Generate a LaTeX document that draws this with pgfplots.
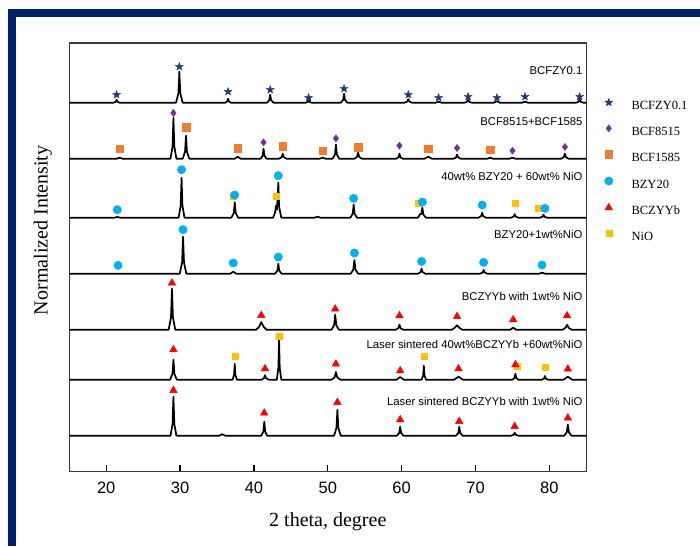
\documentclass[border=0pt]{standalone}
\usepackage{fontspec}
\setmainfont{Liberation Serif}
\setsansfont{Liberation Sans}
\usepackage{pgfplots}
\pgfplotsset{compat=1.18}

\definecolor{frameblue}{RGB}{0,33,105}
\definecolor{starblue}{RGB}{31,56,120}
\definecolor{bcfpurple}{RGB}{112,48,160}
\definecolor{bcforange}{RGB}{237,125,49}
\definecolor{bzycyan}{RGB}{0,176,240}
\definecolor{niogold}{RGB}{255,192,0}
\definecolor{axgray}{RGB}{60,60,60}

% filled five-pointed star
\pgfdeclareplotmark{fstar}{%
  \pgfpathmoveto{\pgfpointpolar{90}{\pgfplotmarksize}}%
  \pgfpathlineto{\pgfpointpolar{126}{0.42\pgfplotmarksize}}%
  \pgfpathlineto{\pgfpointpolar{162}{\pgfplotmarksize}}%
  \pgfpathlineto{\pgfpointpolar{198}{0.42\pgfplotmarksize}}%
  \pgfpathlineto{\pgfpointpolar{234}{\pgfplotmarksize}}%
  \pgfpathlineto{\pgfpointpolar{270}{0.42\pgfplotmarksize}}%
  \pgfpathlineto{\pgfpointpolar{306}{\pgfplotmarksize}}%
  \pgfpathlineto{\pgfpointpolar{342}{0.42\pgfplotmarksize}}%
  \pgfpathlineto{\pgfpointpolar{18}{\pgfplotmarksize}}%
  \pgfpathlineto{\pgfpointpolar{54}{0.42\pgfplotmarksize}}%
  \pgfpathclose
  \pgfusepathqfillstroke}

\begin{document}
\begin{tikzpicture}
\path (0,0) rectangle (700pt,546pt);
\fill[frameblue] (8.3pt,0pt) rectangle (15.7pt,537pt);
\fill[frameblue] (8.3pt,529.3pt) rectangle (700pt,537pt);
\begin{axis}[
    at={(69.3pt,74.3pt)}, anchor=south west,
    scale only axis,
    width=517pt, height=428.7pt,
    xmin=15, xmax=85,
    ymin=0, ymax=428.7,
    xtick={20,30,...,80},
    ytick=\empty,
    xtick pos=lower,
    tick align=inside,
    major tick length=7pt,
    tick style={line width=1.2pt, black},
    axis line style={line width=1.3pt, axgray},
    /pgf/number format/assume math mode=true,
    xticklabel style={font=\sffamily\fontsize{16.5}{18}\selectfont, anchor=center, yshift=-16.5pt},
    xlabel={2 theta, degree},
    ylabel={Normalized Intensity},
    xlabel style={font=\rmfamily\fontsize{20}{24}\selectfont, at={(axis description cs:0.5,-0.116)}, anchor=center},
    ylabel style={font=\rmfamily\fontsize{20}{24}\selectfont, at={(axis description cs:-0.051,0.563)}, anchor=center},
    legend style={draw=none, fill=none,
        at={(axis description cs:1.035,0.8715)}, anchor=north west,
        inner sep=0pt, row sep=12pt, column sep=18.5pt,
        font=\rmfamily\fontsize{12.5}{14}\selectfont,
        nodes={inner sep=0pt, text height=9pt, text depth=3pt}},
    legend cell align=left,
    legend image code/.code={\draw[#1] plot coordinates {(0pt,4.3pt)};},
    trace/.style={black, line width=1.7pt, line join=round, forget plot},
]

% ---- traces (offset stacked) ----
% BCFZY0.1
\addplot[trace] coordinates {
 (15,369) (21.0,369) (21.28,369.9) (21.4,372) (21.52,369.9) (21.8,369)
 (29.45,369) (29.77,378.3) (29.9,400) (30.03,378.3) (30.35,369)
 (36.1,369) (36.38,370.2) (36.5,373) (36.62,370.2) (36.9,369)
 (41.75,369) (42.07,371.4) (42.2,377) (42.33,371.4) (42.65,369)
 (47.0,369) (47.28,369.8) (47.4,371.5) (47.52,369.8) (47.8,369)
 (51.75,369) (52.07,371.7) (52.2,378) (52.33,371.7) (52.65,369)
 (60.4,369) (60.75,370.1) (60.9,372.5) (61.05,370.1) (61.4,369)
 (64.6,369) (65.0,370) (65.4,369)
 (68.5,369) (68.85,369.9) (69.0,372) (69.15,369.9) (69.5,369)
 (72.5,369) (72.9,370.5) (73.3,369)
 (76.3,369) (76.7,370) (77.1,369)
 (83.6,369) (83.95,369.9) (84.1,372) (84.25,369.9) (84.6,369) (85,369)
};
% BCF8515+BCF1585
\addplot[trace] coordinates {
 (15,313) (21.4,313) (21.8,314) (22.2,313)
 (28.7,313) (28.98,325.3) (29.1,354) (29.22,325.3) (29.5,313)
 (30.35,313) (30.67,319.9) (30.8,336) (30.93,319.9) (31.25,313)
 (37.4,313) (37.8,315) (38.2,313)
 (40.9,313) (41.18,316) (41.3,323) (41.42,316) (41.7,313)
 (43.4,313) (43.75,314.5) (43.9,318) (44.05,314.5) (44.4,313)
 (48.9,313) (49.3,314) (49.7,313)
 (50.65,313) (50.97,317.2) (51.1,327) (51.23,317.2) (51.55,313)
 (53.6,313) (53.95,314.8) (54.1,319) (54.25,314.8) (54.6,313)
 (59.25,313) (59.57,314.5) (59.7,318) (59.83,314.5) (60.15,313)
 (63.1,313) (63.6,315) (64.1,313)
 (67.0,313) (67.35,314.2) (67.5,317) (67.65,314.2) (68.0,313)
 (71.6,313) (72.0,314) (72.4,313)
 (74.6,313) (75.0,314) (75.4,313)
 (81.6,313) (81.95,314.5) (82.1,318) (82.25,314.5) (82.6,313) (85,313)
};
% 40wt% BZY20 + 60wt% NiO
\addplot[trace] coordinates {
 (15,254) (21.1,254) (21.5,254.7) (21.9,254)
 (29.8,254) (30.08,266) (30.2,294) (30.32,266) (30.6,254)
 (36.95,254) (37.27,258.7) (37.4,269.5) (37.53,258.7) (37.85,254)
 (42.6,254) (42.85,259) (43.0,266) (43.12,262) (43.3,289) (43.42,264.5) (43.7,254)
 (48.2,254) (48.6,255) (49.0,254)
 (53.05,254) (53.37,257.9) (53.5,267) (53.63,257.9) (53.95,254)
 (62.2,254) (62.45,257) (62.55,258) (62.65,257.5) (62.8,264) (62.95,257) (63.3,254)
 (70.4,254) (70.75,255.5) (70.9,259) (71.05,255.5) (71.4,254)
 (74.8,254) (75.15,255.1) (75.3,257.5) (75.45,255.1) (75.8,254)
 (78.7,254) (79.05,254.9) (79.2,257) (79.35,254.9) (79.7,254) (85,254)
};
% BZY20+1wt%NiO
\addplot[trace] coordinates {
 (15,198)
 (29.95,198) (30.27,209.1) (30.4,235) (30.53,209.1) (30.85,198)
 (36.8,198) (37.2,200) (37.6,198)
 (42.85,198) (43.17,201) (43.3,208) (43.43,201) (43.75,198)
 (53.1,198) (53.45,202) (53.6,211.5) (53.75,202) (54.1,198)
 (62.2,198) (62.55,199.5) (62.7,203) (62.85,199.5) (63.2,198)
 (70.6,198) (70.95,199.1) (71.1,201.7) (71.25,199.1) (71.6,198)
 (78.6,198) (79.0,199) (79.4,198) (85,198)
};
% BCZYYb with 1wt% NiO
\addplot[trace] coordinates {
 (15,142)
 (28.45,142) (28.77,154.3) (28.9,183) (29.03,154.3) (29.35,142)
 (40.3,142) (40.7,145) (41.0,149.5) (41.3,145) (41.7,142)
 (50.5,142) (50.85,146.5) (51.0,157) (51.15,146.5) (51.5,142)
 (59.2,142) (59.55,143.5) (59.7,147) (59.85,143.5) (60.2,142)
 (66.8,142) (67.2,144) (67.5,146.5) (67.8,144) (68.2,142)
 (74.7,142) (75.1,144) (75.5,142)
 (81.8,142) (82.2,144) (82.4,147) (82.6,144) (83.0,142) (85,142)
};
% Laser sintered 40wt%BCZYYb+60wt%NiO
\addplot[trace] coordinates {
 (15,92)
 (28.65,92) (28.97,98) (29.1,112) (29.23,98) (29.55,92)
 (37.1,92) (37.31,96.8) (37.4,108) (37.49,96.8) (37.7,92)
 (41.0,92) (41.35,93.4) (41.5,96.5) (41.65,93.4) (42.0,92)
 (43.1,92) (43.31,104) (43.4,132) (43.49,104) (43.7,92)
 (50.5,92) (50.92,94.3) (51.1,99.7) (51.28,94.3) (51.7,92)
 (59.3,92) (59.8,94.7) (60.3,92)
 (62.7,92) (62.91,96.2) (63.0,106) (63.09,96.2) (63.3,92)
 (67.1,92) (67.7,95) (68.3,92)
 (75.0,92) (75.28,93.8) (75.4,98) (75.52,93.8) (75.8,92)
 (79.0,92) (79.28,93.1) (79.4,95.7) (79.52,93.1) (79.8,92)
 (81.9,92) (82.5,95) (83.1,92) (85,92)
};
% Laser sintered BCZYYb with 1wt% NiO
\addplot[trace] coordinates {
 (15,36)
 (28.7,36) (28.98,47.7) (29.1,75) (29.22,47.7) (29.5,36)
 (35.3,36) (35.7,37.5) (36.1,36)
 (41.0,36) (41.28,40.2) (41.4,50) (41.52,40.2) (41.8,36)
 (50.85,36) (51.17,43.8) (51.3,62) (51.43,43.8) (51.75,36)
 (59.35,36) (59.67,38.7) (59.8,45) (59.93,38.7) (60.25,36)
 (67.35,36) (67.67,38.7) (67.8,45) (67.93,38.7) (68.25,36)
 (74.8,36) (75.15,36.9) (75.3,39) (75.45,36.9) (75.8,36)
 (82.0,36) (82.35,39.3) (82.5,47) (82.65,39.3) (83.0,36) (85,36)
};

% ---- phase markers ----
% NiO (drawn first, sits under the other marks)
\addplot[only marks, mark=square*, mark size=3pt, niogold, forget plot] coordinates {
 (37.2,275.3) (43.0,275.3) (62.2,268.7) (75.4,268.7) (78.5,263.7)
 (37.4,115.3) (43.4,136) (63.0,115.3) (75.7,106) (79.4,104.7)
};
\addplot[only marks, mark=fstar, mark size=4.2pt, starblue, mark options={line width=0.3pt}] coordinates {
 (21.4,377) (29.9,405) (36.5,380) (42.2,382) (47.4,374) (52.2,383)
 (60.9,377) (65.0,374) (69.0,375) (72.9,374) (76.7,375) (84.1,375)
};
\addlegendentry{BCFZY0.1}
\addplot[only marks, mark=diamond*, mark size=3.6pt, bcfpurple] coordinates {
 (29.1,358.7) (41.3,329.3) (51.1,333.3) (59.7,326) (67.5,323.7) (75.0,321) (82.1,324.7)
};
\addlegendentry{BCF8515}
\addplot[only marks, mark=square*, mark size=3.8pt, bcforange] coordinates {
 (21.8,323) (30.8,344.3) (37.8,323.3) (43.9,325.3) (49.3,321) (54.1,324.7) (63.6,323) (72.0,322)
};
\addlegendentry{BCF1585}
\addplot[only marks, mark=*, mark size=4.2pt, bzycyan] coordinates {
 (21.5,262) (30.2,302) (37.4,276.7) (43.3,296) (53.5,273.3) (62.8,269.7) (70.9,266.7) (79.4,263.3)
 (21.6,206.3) (30.4,242) (37.2,208.7) (43.3,214.7) (53.6,218.7) (62.7,210.3) (71.1,209.3) (79.0,206.7)
};
\addlegendentry{BZY20}
\addplot[only marks, mark=triangle*, mark size=4.4pt, red] coordinates {
 (28.9,188.7) (41.0,156.3) (51.0,162.7) (59.7,156) (67.5,155.3) (75.1,152) (82.4,156)
 (29.1,122) (41.5,103) (51.1,107.7) (59.8,101) (67.7,103) (75.4,107) (82.5,102.7)
 (29.1,81.3) (41.4,58.7) (51.3,69.3) (59.8,52) (67.8,50.3) (75.3,45.3) (82.5,53.7)
};
\addlegendentry{BCZYYb}
\addlegendimage{only marks, mark=square*, mark size=3pt, niogold}
\addlegendentry{NiO}

% ---- sample labels ----
\begin{scope}[every node/.style={anchor=east, inner sep=0pt, font=\sffamily\fontsize{11.3}{13}\selectfont}]
\node at (axis cs:84.5,401.3) {BCFZY0.1};
\node at (axis cs:84.5,350.3) {BCF8515+BCF1585};
\node at (axis cs:84.5,295.3) {40wt\% BZY20 + 60wt\% NiO};
\node at (axis cs:84.5,237) {BZY20+1wt\%NiO};
\node at (axis cs:84.5,175.3) {BCZYYb with 1wt\% NiO};
\node at (axis cs:84.5,127) {Laser sintered 40wt\%BCZYYb +60wt\%NiO};
\node at (axis cs:84.5,70.3) {Laser sintered BCZYYb with 1wt\% NiO};
\end{scope}
\end{axis}
\end{tikzpicture}
\end{document}
